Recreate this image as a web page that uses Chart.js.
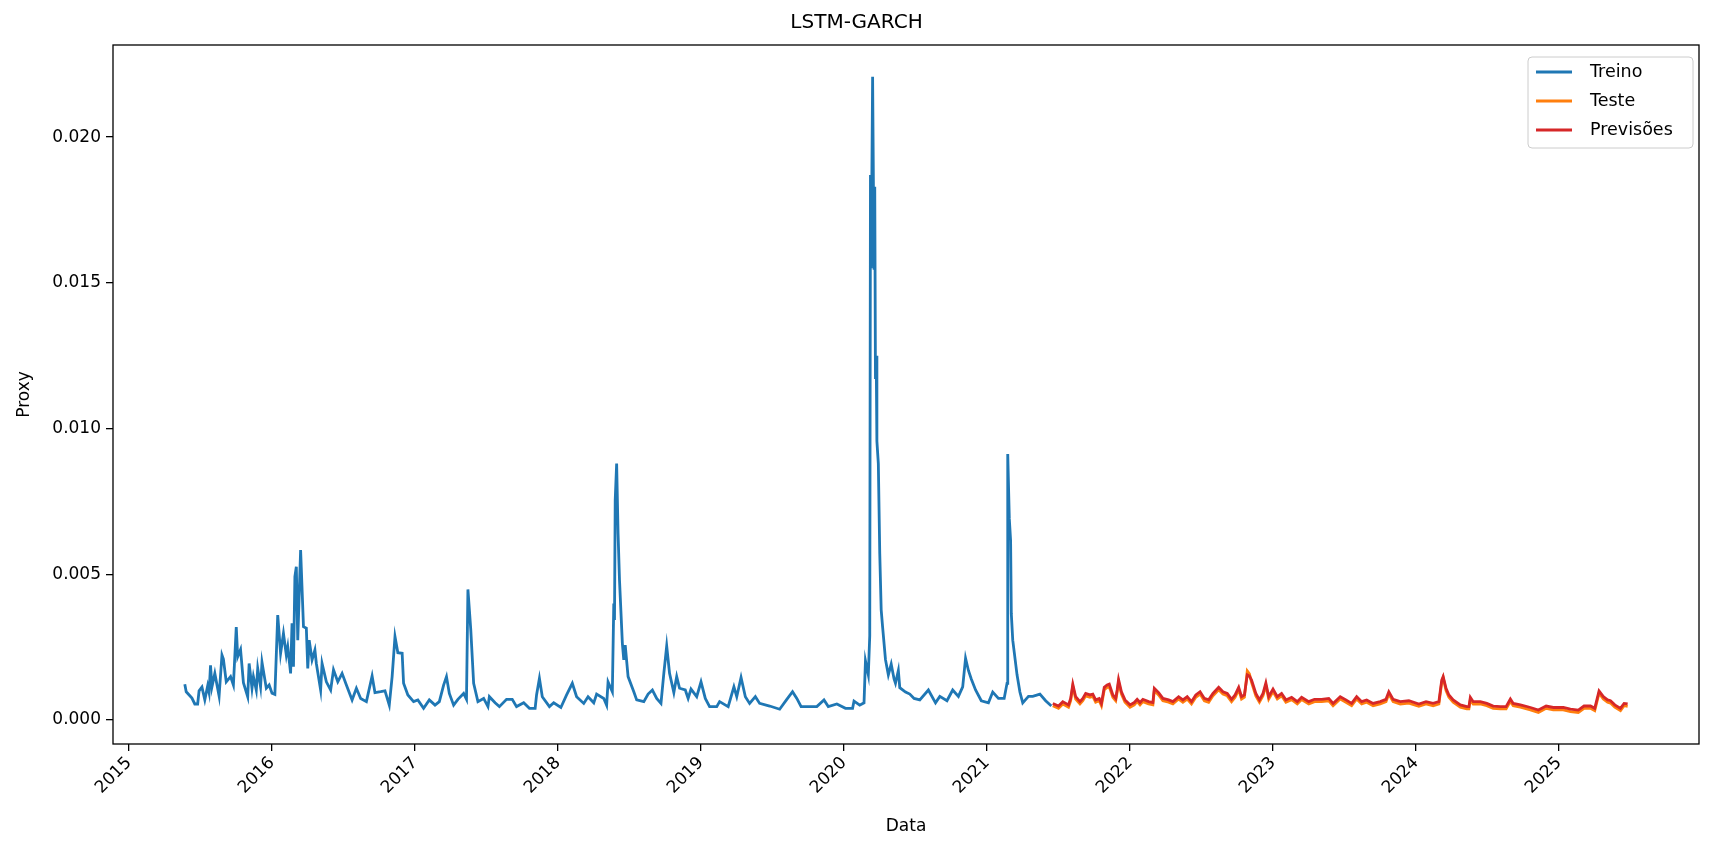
<!DOCTYPE html>
<html>
<head>
<meta charset="utf-8">
<script src="https://cdn.jsdelivr.net/npm/chart.js@4"></script>
<style>
  html, body { margin: 0; padding: 0; background: #fff; }
  #wrap { width: 1713px; height: 849px; }
</style>
</head>
<body>
<div id="wrap"><canvas id="lstmGarchChart"></canvas></div>
<script>
// dates as decimal years, values in units of 1e-3
var trainDates = [2015.39,2015.40,2015.44,2015.46,2015.48,2015.49,2015.51,2015.53,2015.55,2015.56,2015.57,2015.58,2015.60,2015.63,2015.65,2015.66,2015.68,2015.71,2015.73,2015.75,2015.76,2015.78,2015.80,2015.83,2015.84,2015.86,2015.87,2015.89,2015.90,2015.92,2015.93,2015.96,2015.98,2016.00,2016.02,2016.04,2016.06,2016.08,2016.10,2016.11,2016.13,2016.14,2016.15,2016.16,2016.17,2016.18,2016.20,2016.22,2016.24,2016.25,2016.26,2016.28,2016.30,2016.31,2016.34,2016.35,2016.38,2016.41,2016.43,2016.46,2016.49,2016.52,2016.56,2016.59,2016.62,2016.66,2016.70,2016.72,2016.76,2016.79,2016.82,2016.84,2016.86,2016.88,2016.91,2016.92,2016.95,2016.99,2017.02,2017.06,2017.10,2017.14,2017.17,2017.20,2017.22,2017.24,2017.27,2017.30,2017.34,2017.36,2017.37,2017.39,2017.41,2017.44,2017.48,2017.51,2017.52,2017.56,2017.59,2017.64,2017.68,2017.71,2017.76,2017.80,2017.84,2017.85,2017.87,
  2017.89,2017.94,2017.97,2018.02,2018.06,2018.10,2018.13,2018.18,2018.21,2018.25,2018.27,2018.32,2018.34,2018.35,2018.38,2018.39,2018.395,2018.40,2018.41,2018.42,2018.43,2018.45,2018.46,2018.47,2018.49,2018.53,2018.55,2018.60,2018.63,2018.66,2018.69,2018.72,2018.74,2018.76,2018.78,2018.81,2018.83,2018.85,2018.89,2018.91,2018.93,2018.97,2019.00,2019.03,2019.06,2019.11,2019.13,2019.19,2019.23,2019.25,2019.28,2019.31,2019.34,2019.38,2019.41,2019.48,2019.55,2019.60,2019.64,2019.67,2019.70,2019.76,2019.81,2019.86,2019.89,2019.95,2020.01,2020.06,2020.07,2020.11,
  2020.14,2020.15,2020.17,2020.18,2020.185,2020.19,2020.20,2020.21,2020.215,2020.22,2020.225,2020.23,2020.24,2020.25,2020.26,2020.27,2020.29,2020.31,2020.33,2020.35,2020.36,2020.38,2020.39,2020.43,2020.46,2020.49,2020.53,2020.59,2020.64,2020.67,2020.72,2020.76,2020.80,2020.83,2020.85,2020.87,2020.89,2020.92,2020.96,2021.01,2021.04,2021.08,2021.12,2021.14,2021.145,2021.156,2021.165,2021.17,2021.18,2021.21,2021.23,2021.25,2021.29,2021.32,2021.37,2021.41,2021.45];
var trainValues = [1.23,0.97,0.75,0.55,0.55,1.00,1.13,0.69,1.17,0.94,1.88,1.14,1.60,0.82,2.23,2.09,1.31,1.49,1.20,3.19,2.17,2.42,1.28,0.80,1.94,1.09,1.49,1.03,1.77,1.14,1.98,1.09,1.20,0.92,0.88,3.60,2.29,2.97,2.23,2.51,1.60,3.32,1.83,4.92,5.26,2.74,5.83,3.20,3.15,1.77,2.74,2.06,2.40,1.94,1.03,1.94,1.31,1.03,1.72,1.31,1.60,1.20,0.69,1.09,0.74,0.63,1.51,0.94,0.97,1.00,0.51,1.49,2.86,2.31,2.29,1.26,0.86,0.63,0.69,0.40,0.69,0.51,0.63,1.20,1.49,0.91,0.51,0.71,0.91,0.71,4.48,3.09,1.26,0.63,0.74,0.46,0.80,0.59,0.46,0.71,0.71,0.46,0.59,0.40,0.40,0.86,1.43,
  0.80,0.46,0.59,0.43,0.86,1.26,0.80,0.57,0.80,0.59,0.89,0.74,0.51,1.31,0.97,4.00,3.43,7.55,8.80,6.40,4.80,2.63,2.06,2.57,1.49,0.97,0.69,0.63,0.89,1.03,0.74,0.57,1.60,2.54,1.60,0.94,1.49,1.09,1.03,0.74,1.06,0.80,1.31,0.74,0.46,0.46,0.63,0.46,1.14,0.80,1.46,0.80,0.57,0.80,0.57,0.48,0.37,0.71,0.97,0.74,0.46,0.46,0.46,0.69,0.46,0.55,0.40,0.40,0.65,0.51,
  0.59,2.03,1.55,2.89,18.7,15.5,22.07,15.5,18.3,11.7,12.5,9.57,8.80,5.71,3.78,3.19,2.07,1.55,1.92,1.41,1.26,1.70,1.11,0.96,0.89,0.74,0.69,1.03,0.59,0.81,0.66,1.03,0.81,1.14,2.12,1.70,1.41,1.03,0.66,0.59,0.96,0.74,0.74,1.26,9.13,6.90,6.16,3.64,2.74,1.55,0.96,0.59,0.81,0.81,0.89,0.66,0.48];

var testDates = [2021.46,2021.50,2021.53,2021.57,2021.585,2021.60,2021.62,2021.65,2021.67,2021.69,2021.72,2021.74,2021.76,2021.785,2021.80,2021.82,2021.84,2021.855,2021.88,2021.90,2021.91,2021.92,2021.94,2021.965,2022.00,2022.03,2022.05,2022.07,2022.09,2022.13,2022.16,2022.17,2022.20,2022.23,2022.27,2022.30,2022.34,2022.37,2022.40,2022.43,2022.46,2022.49,2022.52,2022.55,2022.58,2022.62,2022.65,2022.68,2022.71,2022.735,2022.76,2022.78,2022.80,2022.82,2022.835,2022.85,2022.88,2022.905,2022.93,2022.95,2022.97,2023.00,2023.03,2023.06,2023.09,2023.13,2023.17,2023.20,2023.25,2023.29,2023.34,2023.39,2023.42,2023.47,2023.51,2023.55,2023.585,2023.62,2023.655,2023.70,2023.75,2023.79,2023.81,2023.84,2023.89,2023.95,2024.02,2024.07,2024.12,2024.16,2024.18,2024.19,2024.21,2024.23,2024.26,2024.31,2024.355,2024.37,2024.38,2024.40,2024.45,2024.495,2024.54,2024.59,2024.63,2024.66,2024.68,2024.73,2024.80,2024.856,2024.91,2024.96,2025.03,2025.08,2025.135,2025.175,2025.22,2025.25,2025.28,2025.31,2025.34,2025.36,2025.39,2025.43,2025.455,2025.48];
var testValues = [0.49,0.40,0.55,0.44,0.66,1.16,0.72,0.55,0.66,0.83,0.78,0.81,0.61,0.66,0.49,1.04,1.12,1.14,0.78,0.66,0.95,1.31,0.89,0.61,0.44,0.52,0.63,0.52,0.63,0.55,0.52,1.01,0.86,0.66,0.61,0.55,0.72,0.61,0.72,0.55,0.78,0.89,0.66,0.61,0.83,1.04,0.89,0.83,0.63,0.78,1.04,0.72,0.78,1.68,1.58,1.29,0.83,0.61,0.83,1.19,0.72,0.98,0.72,0.83,0.61,0.70,0.55,0.70,0.55,0.63,0.63,0.66,0.49,0.72,0.61,0.49,0.72,0.55,0.61,0.49,0.55,0.63,0.89,0.63,0.55,0.58,0.47,0.55,0.49,0.55,1.29,1.45,1.01,0.78,0.61,0.44,0.38,0.38,0.70,0.55,0.55,0.49,0.40,0.38,0.38,0.64,0.49,0.44,0.35,0.26,0.40,0.35,0.35,0.29,0.26,0.40,0.40,0.32,0.92,0.72,0.61,0.58,0.44,0.32,0.49,0.47];
var predValues = [0.57,0.48,0.63,0.52,0.74,1.23,0.80,0.63,0.74,0.91,0.86,0.89,0.69,0.74,0.57,1.12,1.20,1.23,0.86,0.74,1.03,1.39,0.97,0.69,0.52,0.60,0.71,0.60,0.71,0.63,0.60,1.09,0.94,0.74,0.69,0.63,0.80,0.69,0.80,0.63,0.86,0.97,0.74,0.69,0.91,1.12,0.97,0.91,0.71,0.86,1.12,0.80,0.86,1.55,1.51,1.37,0.91,0.69,0.91,1.27,0.80,1.06,0.80,0.91,0.69,0.78,0.63,0.78,0.63,0.71,0.71,0.74,0.57,0.80,0.69,0.57,0.80,0.63,0.69,0.57,0.63,0.71,0.97,0.71,0.63,0.66,0.55,0.63,0.57,0.63,1.37,1.49,1.09,0.86,0.69,0.52,0.46,0.46,0.78,0.63,0.63,0.57,0.48,0.46,0.46,0.72,0.57,0.52,0.43,0.34,0.48,0.43,0.43,0.37,0.34,0.48,0.48,0.40,1.00,0.80,0.69,0.66,0.52,0.40,0.57,0.55];

var yearTicks = [2015,2016,2017,2018,2019,2020,2021,2022,2023,2024,2025];
var proxyTicks = [0.000,0.005,0.010,0.015,0.020];

function toPoints(dates, vals) {
    return dates.map(function (d, i) { return { x: d, y: vals[i] / 1000 }; });
}

var seriesNames = ['Treino', 'Teste', 'Previsões'];
var seriesColors = ['#1f77b4', '#ff7f0e', '#d62728'];

var frameAndLegend = {
    id: 'frameAndLegend',
    afterDraw: function (chart) {
        var c = chart.ctx, a = chart.chartArea;
        c.save();
        c.strokeStyle = '#000';
        c.lineWidth = 1.3;
        c.strokeRect(a.left, a.top, a.right - a.left, a.bottom - a.top);
        // legend box, upper right
        var bx = 1528, by = 57, bw = 165, bh = 91;
        c.fillStyle = 'rgba(255,255,255,0.8)';
        c.strokeStyle = '#cccccc';
        c.lineWidth = 1;
        c.beginPath();
        c.roundRect(bx, by, bw, bh, 4);
        c.fill();
        c.stroke();
        c.font = '17.5px "DejaVu Sans"';
        c.textBaseline = 'middle';
        for (var i = 0; i < seriesNames.length; i++) {
            var ly = 72 + i * 29;
            c.strokeStyle = seriesColors[i];
            c.lineWidth = 2.8;
            c.beginPath();
            c.moveTo(1536, ly);
            c.lineTo(1572, ly);
            c.stroke();
            c.fillStyle = '#000';
            c.fillText(seriesNames[i], 1590, ly);
        }
        c.restore();
    }
};

var ctx = document.getElementById('lstmGarchChart').getContext('2d');
var chart = new Chart(ctx, {
    type: 'line',
    data: {
        datasets: [
            { label: 'Treino', data: toPoints(trainDates, trainValues), borderColor: seriesColors[0], order: 2 },
            { label: 'Teste', data: toPoints(testDates, testValues), borderColor: seriesColors[1], order: 1 },
            { label: 'Previsões', data: toPoints(testDates, predValues), borderColor: seriesColors[2], order: 0 }
        ]
    },
    options: {
        responsive: true,
        maintainAspectRatio: false,
        animation: false,
        elements: { point: { radius: 0 }, line: { borderWidth: 2.8, tension: 0 } },
        layout: { padding: { top: 0, right: 14, left: 14, bottom: 12 } },
        plugins: {
            legend: { display: false },
            tooltip: { enabled: false },
            title: {
                display: true, text: 'LSTM-GARCH', color: '#000',
                font: { family: 'DejaVu Sans', size: 20, weight: 'normal' },
                padding: { top: 11, bottom: 10 }
            }
        },
        scales: {
            x: {
                type: 'linear', min: 2014.888, max: 2025.979,
                afterBuildTicks: function (s) { s.ticks = yearTicks.map(function (v) { return { value: v }; }); },
                afterFit: function (s) { s.height = 93; },
                grid: { display: true, drawOnChartArea: false, drawTicks: true, tickLength: 7, color: '#000', lineWidth: 1.3 },
                border: { display: false },
                ticks: { color: '#000', font: { family: 'DejaVu Sans', size: 17 }, maxRotation: 45, minRotation: 45, padding: 2,
                         callback: function (v) { return String(v); } },
                title: { display: true, text: 'Data', color: '#000', font: { family: 'DejaVu Sans', size: 17 }, padding: { top: 0, bottom: 0 } }
            },
            y: {
                type: 'linear', min: -0.000823, max: 0.02316,
                afterBuildTicks: function (s) { s.ticks = proxyTicks.map(function (v) { return { value: v }; }); },
                afterFit: function (s) { s.width = 99; },
                grid: { display: true, drawOnChartArea: false, drawTicks: true, tickLength: 7, color: '#000', lineWidth: 1.3 },
                border: { display: false },
                ticks: { color: '#000', font: { family: 'DejaVu Sans', size: 17 }, padding: 5,
                         callback: function (v) { return v.toFixed(3); } },
                title: { display: true, text: 'Proxy', color: '#000', font: { family: 'DejaVu Sans', size: 17 }, padding: { top: 0, bottom: 0 } }
            }
        }
    },
    plugins: [frameAndLegend]
});
</script>
</body>
</html>
